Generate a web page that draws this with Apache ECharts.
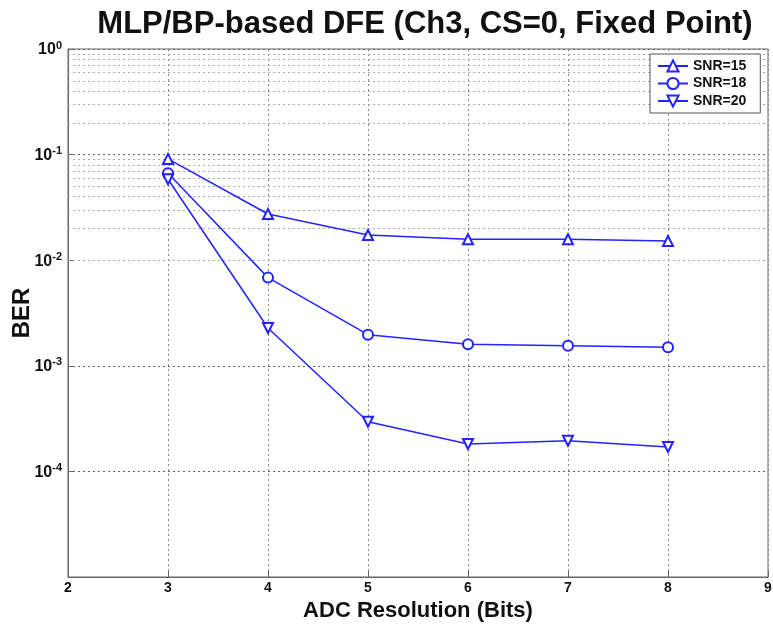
<!DOCTYPE html>
<html>
<head>
<meta charset="utf-8">
<script src="https://cdn.jsdelivr.net/npm/echarts@6/dist/echarts.min.js"></script>
<style>
  html, body { margin: 0; padding: 0; background: #fff; }
  #chart { width: 773px; height: 626px; }
</style>
</head>
<body>
<div id="chart"></div>
<script>
// ADC resolution in bits
const bits = [3, 4, 5, 6, 7, 8];

// Bit error rate per SNR setting
const berSnr15 = [0.091, 0.0274, 0.0173, 0.0158, 0.0158, 0.0152];
const berSnr18 = [0.0665, 0.00684, 0.00197, 0.0016, 0.00155, 0.0015];
const berSnr20 = [0.0584, 0.00228, 0.000295, 0.000182, 0.000195, 0.00017];

const seriesNames = ['SNR=15', 'SNR=18', 'SNR=20'];

// Minor log grid lines: 2..9 within each decade from 1e-5 to 1e0
const decades = [-5, -4, -3, -2, -1];
const minorSteps = [2, 3, 4, 5, 6, 7, 8, 9];
const minorGrid = [];
decades.forEach(d => minorSteps.forEach(m => minorGrid.push(m * Math.pow(10, d))));

const blue = '#2323ff';
const font = 'Arial, "Liberation Sans", Helvetica, sans-serif';

function curve(name, values, symbol, rotate, size) {
  return {
    name: name,
    type: 'line',
    data: bits.map((b, i) => [b, values[i]]),
    symbol: symbol,
    symbolRotate: rotate,
    symbolSize: size,
    lineStyle: { color: blue, width: 1.5 },
    itemStyle: { color: blue, borderColor: blue, borderWidth: 1.3 },
    z: 5
  };
}

const chart = echarts.init(document.getElementById('chart'), null, { renderer: 'canvas' });
chart.setOption({
  animation: false,
  backgroundColor: '#fff',
  title: {
    text: 'MLP/BP-based DFE (Ch3, CS=0, Fixed Point)',
    left: 420,
    textAlign: 'center',
    top: 4,
    textStyle: { fontFamily: font, fontSize: 31, fontWeight: 'bold', color: '#111' }
  },
  grid: {
    left: 68, right: 5, top: 49, bottom: 49,
    outerBoundsMode: 'none',
    containLabel: false,
    show: true, borderColor: '#666', borderWidth: 1, backgroundColor: '#fff'
  },
  legend: {
    data: seriesNames,
    orient: 'vertical',
    left: 650, top: 54,
    z: 20,
    padding: [5, 14, 5, 7],
    itemGap: 3.5,
    itemWidth: 30, itemHeight: 14,
    backgroundColor: '#fff',
    borderColor: '#555', borderWidth: 1,
    textStyle: { fontFamily: font, fontSize: 14, fontWeight: 'bold', color: '#111' }
  },
  xAxis: {
    type: 'value',
    min: 2, max: 9, interval: 1,
    name: 'ADC Resolution (Bits)',
    nameLocation: 'middle',
    nameGap: 22,
    nameTextStyle: { fontFamily: font, fontSize: 22, fontWeight: 'bold', color: '#111' },
    axisLine: { show: true, lineStyle: { color: '#666' } },
    axisTick: { show: true, inside: true, length: 6, lineStyle: { color: '#666' } },
    axisLabel: { fontFamily: font, fontSize: 14, fontWeight: 'bold', color: '#111', margin: 4 },
    splitLine: { show: true, lineStyle: { type: [2, 3], color: '#888', width: 1 } }
  },
  yAxis: {
    type: 'log',
    logBase: 10,
    min: 1e-5, max: 1,
    name: 'BER',
    nameLocation: 'middle',
    nameGap: 34,
    nameMoveOverlap: false,
    nameRotate: 90,
    nameTextStyle: { fontFamily: font, fontSize: 24, fontWeight: 'bold', color: '#111' },
    axisLine: { show: true, lineStyle: { color: '#666' } },
    axisTick: { show: true, inside: true, length: 6, lineStyle: { color: '#666' } },
    axisLabel: {
      showMinLabel: false,
      margin: 6,
      formatter: function (v) {
        const e = Math.round(Math.log10(v));
        return '{b|10}{e|' + e + '}';
      },
      rich: {
        b: { fontFamily: font, fontSize: 16, fontWeight: 'bold', color: '#111', verticalAlign: 'bottom', lineHeight: 18 },
        e: { fontFamily: font, fontSize: 11, fontWeight: 'bold', color: '#111', verticalAlign: 'top', lineHeight: 18, padding: [0, 0, 12, 0] }
      }
    },
    splitLine: { show: true, lineStyle: { type: [2, 3], color: '#666', width: 1 } }
  },
  series: [
    {
      name: 'minor-grid',
      type: 'line',
      data: [],
      silent: true,
      z: 1,
      markLine: {
        silent: true,
        z: 1,
        symbol: 'none',
        label: { show: false },
        lineStyle: { type: [2, 3], color: '#aaa', width: 1 },
        data: minorGrid.map(v => ({ yAxis: v }))
      }
    },
    curve(seriesNames[0], berSnr15, 'emptyTriangle', 0, 10),
    curve(seriesNames[1], berSnr18, 'emptyCircle', 0, 10),
    curve(seriesNames[2], berSnr20, 'emptyTriangle', 180, 10)
  ]
});
</script>
</body>
</html>
